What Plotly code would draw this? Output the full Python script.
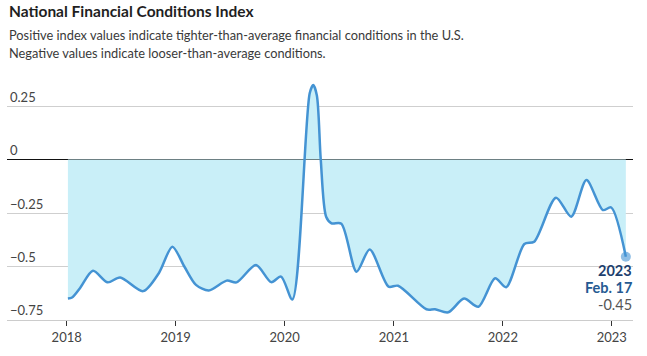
import plotly.graph_objects as go

dates = ["2018-01-05", "2018-01-19", "2018-02-15", "2018-03-30", "2018-05-18", "2018-06-29",
         "2018-09-14", "2018-11-06", "2018-12-21", "2019-01-30", "2019-03-10", "2019-04-22",
         "2019-06-21", "2019-07-24", "2019-09-27", "2019-11-17", "2019-12-20", "2020-01-27",
         "2020-03-25", "2020-04-06", "2020-04-18", "2020-05-01", "2020-05-19", "2020-06-06",
         "2020-07-09", "2020-08-29",
         "2020-10-12", "2020-12-14", "2021-01-15", "2021-04-20", "2021-05-19", "2021-07-02",
         "2021-08-24", "2021-10-11", "2021-12-06", "2022-01-12", "2022-03-14", "2022-04-16",
         "2022-06-28", "2022-08-18", "2022-10-08", "2022-12-02", "2022-12-30", "2023-02-17"]
values = [-0.65, -0.645, -0.60, -0.52, -0.574, -0.551,
          -0.615, -0.53, -0.407, -0.50, -0.586, -0.612,
          -0.566, -0.574, -0.493, -0.573, -0.547, -0.654,
          0.31, 0.348, 0.30, 0.0, -0.267, -0.298,
          -0.30, -0.524,
          -0.42, -0.594, -0.59, -0.70, -0.70, -0.714,
          -0.650, -0.688, -0.555, -0.597, -0.395, -0.384,
          -0.178, -0.267, -0.096, -0.236, -0.224, -0.454]

y_ticks = [-0.75, -0.5, -0.25, 0, 0.25]
y_tick_text = ["\u22120.75", "\u22120.5", "\u22120.25", "0", "0.25"]
x_ticks = ["2018-01-01", "2019-01-01", "2020-01-01", "2021-01-01", "2022-01-01", "2023-01-01"]
x_tick_text = ["2018", "2019", "2020", "2021", "2022", "2023"]

title = "National Financial Conditions Index"
subtitle1 = "Positive index values indicate tighter-than-average financial conditions in the U.S."
subtitle2 = "Negative values indicate looser-than-average conditions."
end_year, end_date, end_value = "2023", "Feb. 17", "-0.45"

FONT = "Lato"
LINE = "#4493d3"
FILL = "#c9eff8"

fig = go.Figure()
fig.add_trace(go.Scatter(
    x=dates, y=values, mode="lines", line=dict(color=LINE, width=2.5, shape="spline", smoothing=0.8),
    fill="tozeroy", fillcolor=FILL, hoverinfo="skip", showlegend=False))
fig.add_trace(go.Scatter(
    x=[dates[-1]], y=[values[-1]], mode="markers",
    marker=dict(size=10, color="rgba(68,147,211,0.6)"), showlegend=False, hoverinfo="skip"))

fig.update_layout(
    width=647, height=356,
    margin=dict(l=7, r=14, t=74, b=36),
    paper_bgcolor="white", plot_bgcolor="white",
    font=dict(family=FONT, color="#444", size=13),
    xaxis=dict(type="date", range=["2017-06-15", "2023-03-13"], tickvals=x_ticks, ticktext=x_tick_text,
               showgrid=False, ticks="outside", ticklen=5, tickcolor="#333", tickwidth=1,
               showline=True, linecolor="#cccccc", linewidth=1, zeroline=False,
               tickfont=dict(size=13, color="#444")),
    yaxis=dict(range=[-0.75, 0.40], tickvals=y_ticks, ticktext=y_tick_text,
               ticklabelposition="inside top", showgrid=True, gridcolor="#cfcfcf", gridwidth=1,
               zeroline=True, zerolinecolor="#111", zerolinewidth=1.2, showline=False,
               tickfont=dict(size=13, color="#444")),
)

anns = [
    dict(text="<b>" + title + "</b>", x=7, y=0, font=dict(size=15.5, color="#1f1f1f")),
    dict(text=subtitle1, x=7, y=25, font=dict(size=12.8, color="#3a3a3a")),
    dict(text=subtitle2, x=7, y=43, font=dict(size=12.8, color="#3a3a3a")),
]
for a in anns:
    fig.add_annotation(text=a["text"], xref="paper", yref="paper",
                       x=(a["x"] - 7) / 626, y=1 + (74 - a["y"]) / 246,
                       xanchor="left", yanchor="top", showarrow=False, font=dict(family=FONT, **a["font"]))

for txt, py, col, bold in [(end_year, 270.7, "#1d3f6e", True), (end_date, 287, "#255a92", True),
                           (end_value, 304, "#555555", False)]:
    fig.add_annotation(text=("<b>%s</b>" % txt) if bold else txt, xref="paper", yref="paper",
                       x=1, xshift=1, y=(320 - py) / 246, xanchor="right", yanchor="middle",
                       showarrow=False, font=dict(family=FONT, size=14.5, color=col))

fig.write_html("out.html", post_script="document.body.style.margin='0';",
               config={"displayModeBar": False})
